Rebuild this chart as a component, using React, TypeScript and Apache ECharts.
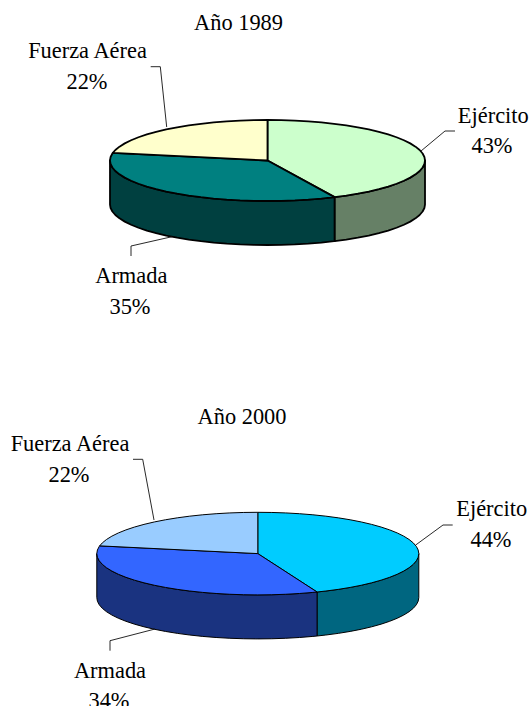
import React, { useEffect, useRef } from "react";
import * as echarts from "echarts";

const categories = ["Ejército", "Armada", "Fuerza Aérea"];
const values1989 = [43, 35, 22];
const values2000 = [44, 34, 22];
const title1989 = "Año 1989";
const title2000 = "Año 2000";

const topColors1989 = ["#CCFFCC", "#008080", "#FFFFCC"];
const sideColors1989 = ["#668066", "#004040", "#808066"];
const topColors2000 = ["#00CCFF", "#3366FF", "#99CCFF"];
const sideColors2000 = ["#006680", "#1A3380", "#4D6680"];

const FONT = "Liberation Serif";
const FONT_SIZE = 22.4;

type Layout = {
  cx: number; cy: number; rx: number; ry: number; depth: number; lineWidth: number;
  labels: { name: [number, number]; pct: [number, number]; leader: number[][] }[];
};

const layout1989: Layout = {
  cx: 267.5, cy: 160.5, rx: 157.5, ry: 40.5, depth: 44, lineWidth: 1.8,
  labels: [
    { name: [493.3, 115], pct: [492, 145], leader: [[421, 151], [445, 131], [455, 131]] },
    { name: [131.3, 275], pct: [130, 306], leader: [[172, 236.7], [131, 246], [131, 256]] },
    { name: [87.5, 50], pct: [87, 81], leader: [[166.7, 127], [160.3, 66.7], [150.7, 66.7]] },
  ],
};
const layout2000: Layout = {
  cx: 257.8, cy: 553.6, rx: 161, ry: 41.3, depth: 44, lineWidth: 1,
  labels: [
    { name: [491.7, 508], pct: [491, 539], leader: [[415.7, 545], [443, 525], [452.7, 525]] },
    { name: [110, 670], pct: [109, 700], leader: [[155, 629], [110, 640.7], [110, 650.7]] },
    { name: [70, 443.3], pct: [69, 474], leader: [[154, 520], [142.7, 459.3], [133, 459.3]] },
  ],
};

const STEP = 5;

function arcAngles(a0: number, a1: number): number[] {
  const out = [a0];
  let a = (Math.floor(a0 / STEP) + 1) * STEP;
  while (a < a1) {
    out.push(a);
    a += STEP;
  }
  out.push(a1);
  return out;
}

function pieSeries(values: number[], tops: string[], sides: string[], l: Layout) {
  const total = values.reduce((s, v) => s + v, 0);
  const pt = (deg: number, dy = 0) => {
    const t = (deg * Math.PI) / 180;
    return [l.cx + l.rx * Math.sin(t), l.cy - l.ry * Math.cos(t) + dy];
  };
  const border = { stroke: "#000", lineWidth: l.lineWidth, lineJoin: "round" };
  return {
    type: "custom",
    coordinateSystem: "none",
    silent: true,
    data: values,
    renderItem: (params: any, api: any) => {
      const i = params.dataIndex;
      const before = values.slice(0, i).reduce((s, v) => s + v, 0);
      const a0 = (before / total) * 360;
      const a1 = ((before + api.value(0)) / total) * 360;
      const children: any[] = [];
      const s0 = Math.max(a0, 90);
      const s1 = Math.min(a1, 270);
      if (s1 > s0) {
        const angles = arcAngles(s0, s1);
        const wall = [
          ...angles.map((a) => pt(a)),
          ...angles.slice().reverse().map((a) => pt(a, l.depth)),
        ];
        children.push({
          type: "polygon",
          shape: { points: wall },
          style: { fill: sides[i], ...border },
        });
      }
      const top = [[l.cx, l.cy], ...arcAngles(a0, a1).map((a) => pt(a))];
      children.push({
        type: "polygon",
        shape: { points: top },
        style: { fill: tops[i], ...border },
      });
      const lab = l.labels[i];
      children.push({
        type: "polyline",
        shape: { points: lab.leader },
        style: { fill: "none", stroke: "#111", lineWidth: 0.9 },
      });
      const text = (s: string, p: [number, number]) => ({
        type: "text",
        style: {
          text: s, x: p[0], y: p[1], align: "center", verticalAlign: "middle",
          fontFamily: FONT, fontSize: FONT_SIZE, fill: "#000",
        },
      });
      children.push(text(categories[i], lab.name));
      children.push(text(`${api.value(0)}%`, lab.pct));
      return { type: "group", children };
    },
  };
}

export default function App() {
  const ref = useRef<HTMLDivElement>(null);
  useEffect(() => {
    document.body.style.margin = "0";
    document.body.style.overflow = "hidden";
    const chart = echarts.init(ref.current!, undefined, { renderer: "svg" });
    const titleStyle = { fontFamily: FONT, fontSize: FONT_SIZE, fontWeight: "normal", color: "#000" };
    chart.setOption({
      animation: false,
      backgroundColor: "#fff",
      title: [
        { text: title1989, left: 238.5, top: 11, textAlign: "center", padding: 0, textStyle: titleStyle },
        { text: title2000, left: 242, top: 405, textAlign: "center", padding: 0, textStyle: titleStyle },
      ],
      series: [
        pieSeries(values1989, topColors1989, sideColors1989, layout1989),
        pieSeries(values2000, topColors2000, sideColors2000, layout2000),
      ],
    });
    return () => chart.dispose();
  }, []);
  return <div ref={ref} style={{ width: 530, height: 706 }} />;
}
